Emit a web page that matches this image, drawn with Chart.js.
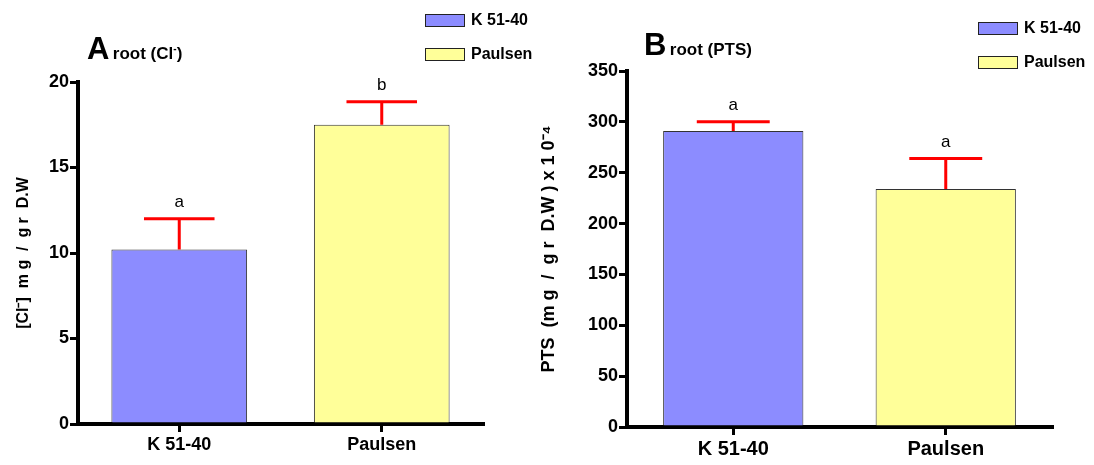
<!DOCTYPE html>
<html>
<head>
<meta charset="utf-8">
<script src="https://cdn.jsdelivr.net/npm/chart.js@4"></script>
<style>
  body { margin: 0; background: #fff; width: 1094px; height: 465px; position: relative; overflow: hidden;
         font-family: "Liberation Sans", Arial, sans-serif; }
  .panel { position: absolute; top: 0; height: 465px; }
  .title { position: absolute; font-weight: bold; color: #000; white-space: nowrap; }
  .title .big { font-size: 31px; letter-spacing: -1px; }
  .title .small { font-size: 17px; }
  .legend { position: absolute; font-weight: bold; font-size: 16px; color: #000; }
  .legend div { display: flex; align-items: center; height: 16px; margin-bottom: 18px; }
  .legend span.box { display: inline-block; width: 38px; height: 11px; border: 1.5px solid #222; margin-right: 6px; }
</style>
</head>
<body>
<div class="panel" style="left:0;width:520px"><canvas id="chartA" width="520" height="465"></canvas></div>
<div class="panel" style="left:520px;width:574px"><canvas id="chartB" width="574" height="465"></canvas></div>

<div class="title" style="left:87px;top:31px"><span class="big">A</span> <span class="small">root (Cl<sup style="font-size:10px">-</sup>)</span></div>
<div class="title" style="left:644px;top:27px"><span class="big">B</span> <span class="small">root (PTS)</span></div>

<div class="legend" id="legendA" style="left:425px;top:12px"></div>
<div class="legend" id="legendB" style="left:978px;top:20px"></div>

<script>
// Chart values
const categories = ['K 51-40', 'Paulsen'];
const barColors = ['#8c8cff', '#ffff99'];

const chlorideMeans = [10.2, 17.5];
const chlorideErrors = [1.8, 1.35];
const chlorideLetters = ['a', 'b'];

const ptsMeans = [291, 234];
const ptsErrors = [9, 30];
const ptsLetters = ['a', 'a'];

const FONT = '"Liberation Sans", Arial, sans-serif';

// Draws the red upper error bars and significance letters
const errorBarPlugin = {
    id: 'errorBars',
    afterDatasetsDraw(chart, args, opts) {
        const ctx = chart.ctx;
        const yScale = chart.scales.y;
        const meta = chart.getDatasetMeta(0);
        meta.data.forEach((bar, i) => {
            const top = yScale.getPixelForValue(opts.means[i] + opts.errors[i]);
            const half = bar.width * 0.26;
            ctx.save();
            ctx.strokeStyle = '#ff0000';
            ctx.lineWidth = 3;
            ctx.beginPath();
            ctx.moveTo(bar.x, bar.y);
            ctx.lineTo(bar.x, top);
            ctx.moveTo(bar.x - half, top);
            ctx.lineTo(bar.x + half, top);
            ctx.stroke();
            ctx.fillStyle = '#000';
            ctx.font = '17px ' + FONT;
            ctx.textAlign = 'center';
            ctx.textBaseline = 'bottom';
            ctx.fillText(opts.letters[i], bar.x, top - 8);
            ctx.restore();
        });
    }
};

function makeChart(id, means, errors, letters, yMax, yStep, yTitle, titleSize, pad, yWidth, xHeight, barPct, tickSize) {
    return new Chart(document.getElementById(id), {
        type: 'bar',
        data: {
            labels: categories,
            datasets: [{
                data: means,
                backgroundColor: barColors,
                borderColor: '#333',
                borderWidth: 1,
                barPercentage: barPct,
                categoryPercentage: 1
            }]
        },
        options: {
            responsive: false,
            animation: false,
            layout: { padding: pad },
            plugins: {
                legend: { display: false },
                tooltip: { enabled: false },
                errorBars: { means: means, errors: errors, letters: letters }
            },
            scales: {
                x: {
                    offset: true,
                    border: { display: true, color: '#000', width: 4 },
                    grid: { offset: false, drawOnChartArea: false, color: '#000', lineWidth: 3, tickLength: 8 },
                    ticks: { color: '#000', font: { family: FONT, size: tickSize, weight: 'bold' }, padding: 2 },
                    afterFit(scale) { scale.height = xHeight; }
                },
                y: {
                    min: 0,
                    max: yMax,
                    border: { display: true, color: '#000', width: 4 },
                    grid: { drawOnChartArea: false, color: '#000', lineWidth: 3, tickLength: 8 },
                    ticks: { stepSize: yStep, color: '#000', font: { family: FONT, size: 18, weight: 'bold' }, padding: 1 },
                    title: { display: true, text: yTitle, color: '#000',
                             font: { family: FONT, size: titleSize, weight: 'bold' }, padding: 0 },
                    afterFit(scale) { scale.width = yWidth; }
                }
            }
        },
        plugins: [errorBarPlugin]
    });
}

makeChart('chartA', chlorideMeans, chlorideErrors, chlorideLetters, 20, 5,
    '[Cl\u207B]  m g  /  g r  D.W', 16, { left: 14, top: 82, right: 37, bottom: 0 }, 64, 41, 0.67, 18);
makeChart('chartB', ptsMeans, ptsErrors, ptsLetters, 350, 50,
    'PTS  (m g  /  g r  D.W ) x 1 0\u207B\u2074', 18, { left: 18, top: 71, right: 42, bottom: 0 }, 89, 38, 0.66, 20);

// HTML legends
function buildLegend(id) {
    const el = document.getElementById(id);
    categories.forEach((c, i) => {
        const row = document.createElement('div');
        row.innerHTML = '<span class="box" style="background:' + barColors[i] + '"></span>' + c;
        el.appendChild(row);
    });
}
buildLegend('legendA');
buildLegend('legendB');
</script>
</body>
</html>
